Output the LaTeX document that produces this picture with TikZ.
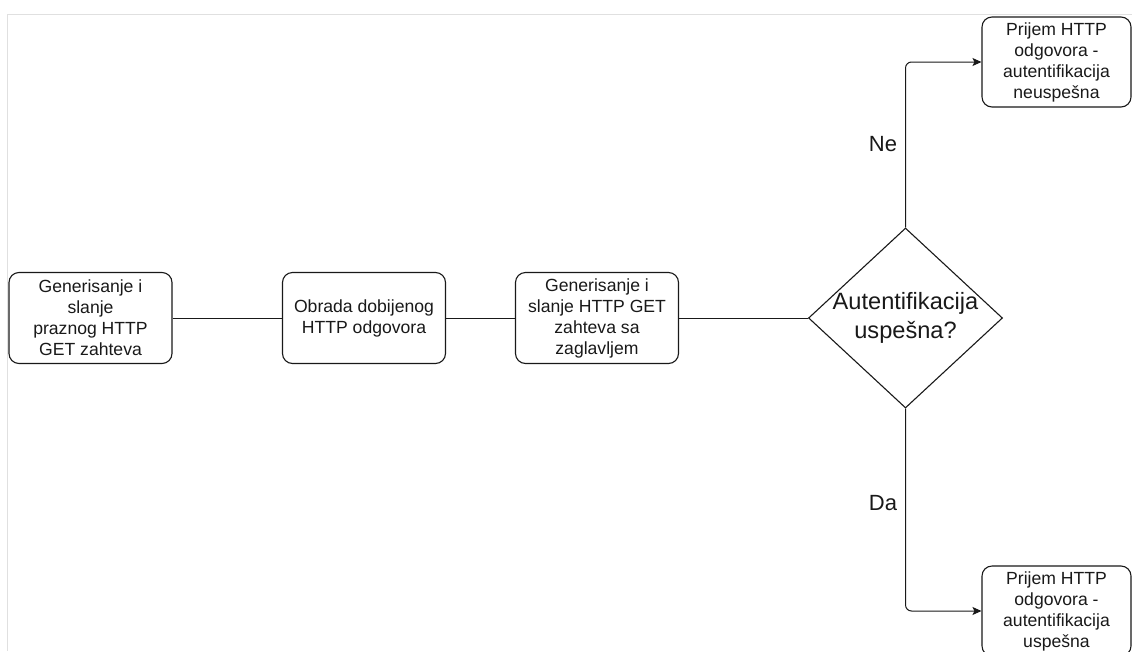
\documentclass[tikz,border=0pt]{standalone}
\usepackage{fontspec}
\setmainfont{Liberation Sans}
\usetikzlibrary{shapes.geometric,arrows.meta}

\tikzset{
  procbox/.style={draw=black!90, line width=1.1pt, rounded corners=10pt,
    minimum width=163pt, minimum height=91pt, inner sep=0pt,
    align=center, font=\fontsize{17.6}{21}\selectfont, text=black!90},
  decision/.style={draw=black!90, line width=1.1pt, shape=diamond,
    minimum width=194pt, minimum height=180pt, inner sep=0pt},
  decisiontext/.style={align=center, font=\fontsize{23.6}{29.5}\selectfont, text=black!90},
  link/.style={draw=black!90, line width=1.0pt},
  flow/.style={link, rounded corners=6pt, -{Stealth[length=9pt,width=8pt,inset=2pt]}},
  branchlabel/.style={font=\fontsize{22}{26}\selectfont, text=black!90},
  frameline/.style={draw=black!12, line width=1pt}
}

\begin{document}
\begin{tikzpicture}[x=1pt,y=-1pt]
  \useasboundingbox (0,0) rectangle (1132,651);

  % faint frame along the top and left
  \draw[frameline] (7,651) -- (7,14) -- (1132,14);

  % main chain of steps
  \node[procbox] (gen)  at (90.5,318) {Generisanje i\\slanje\\praznog HTTP\\GET zahteva};
  \node[procbox] (obr)  at (364,318)  {Obrada dobijenog\\HTTP odgovora};
  \node[procbox] (hdr)  at (597,318)  {Generisanje i\\slanje HTTP GET\\zahteva sa\\zaglavljem};
  \node[decision, label={[decisiontext]center:Autentifikacija\\uspešna?}] (auth) at (905.5,318) {};

  % outcomes
  \node[procbox, minimum width=149pt, minimum height=90pt] (fail) at (1056.5,62)
    {Prijem HTTP\\odgovora -\\autentifikacija\\neuspešna};
  \node[procbox, minimum width=149pt, minimum height=90pt] (succ) at (1056.5,611)
    {Prijem HTTP\\odgovora -\\autentifikacija\\uspešna};

  % connectors
  \draw[link] (gen.east) -- (obr.west);
  \draw[link] (obr.east) -- (hdr.west);
  \draw[link] (hdr.east) -- (auth.west);
  \draw[flow] (auth.north) |- (fail.west);
  \draw[flow] (auth.south) |- (succ.west);

  % branch labels
  \node[branchlabel] (ne) at (883,144) {Ne};
  \node[branchlabel] (da) at (883,503) {Da};
\end{tikzpicture}
\end{document}
